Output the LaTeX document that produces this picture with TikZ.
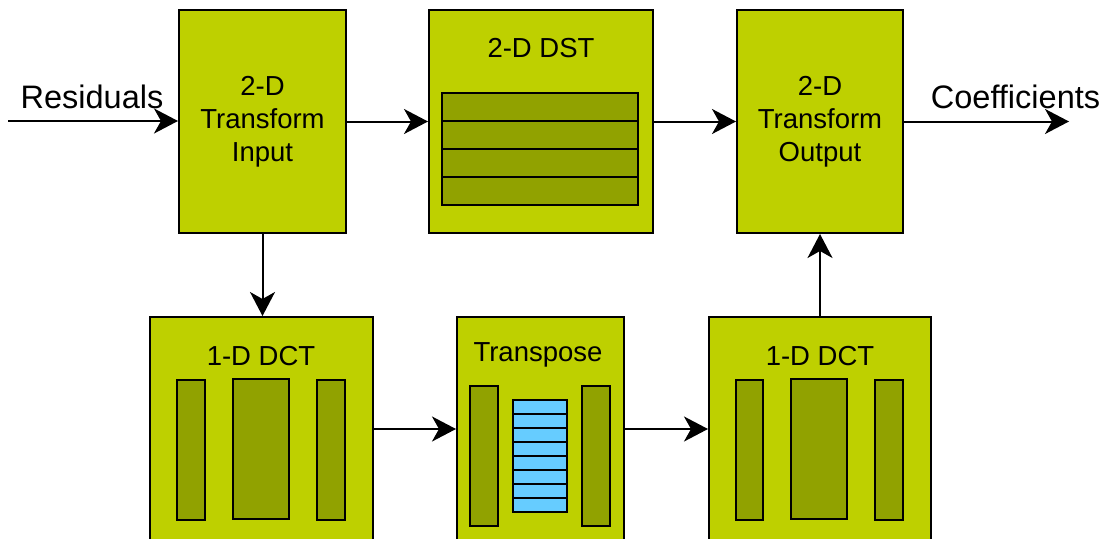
\documentclass[tikz,border=0pt]{standalone}
\usepackage{fontspec}
\setmainfont{Liberation Sans}
\usetikzlibrary{arrows.meta}
\definecolor{boxgreen}{RGB}{190,208,0}
\definecolor{bargreen}{RGB}{145,162,0}
\definecolor{cellblue}{RGB}{102,204,255}
\begin{document}
\begin{tikzpicture}[x=1pt,y=-1pt,
  box/.style={draw=black, line width=2pt, fill=boxgreen, anchor=north west, inner sep=0pt},
  bar/.style={draw=black, line width=2pt, fill=bargreen},
  cell/.style={draw=black, line width=2pt, fill=cellblue},
  boxtext/.style={font=\fontsize{27.5}{33}\selectfont, align=center, inner sep=0pt},
  lbl/.style={font=\fontsize{32.5}{39}\selectfont, inner sep=0pt, anchor=base},
  conn/.style={line width=2pt, -{Stealth[length=24pt,width=25pt,inset=7pt]}}]
\useasboundingbox (0,0) rectangle (1115,538);
\clip (0,0) rectangle (1115,538);
% top row
\node[box, minimum width=167pt, minimum height=223pt] (A) at (178,9) {};
\node[box, minimum width=224pt, minimum height=223pt] (B) at (428,9) {};
\node[box, minimum width=166pt, minimum height=223pt] (C) at (736,9) {};
% bottom row
\node[box, minimum width=223pt, minimum height=224pt] (D) at (149,316) {};
\node[box, minimum width=167pt, minimum height=224pt] (E) at (456,316) {};
\node[box, minimum width=222pt, minimum height=224pt] (F) at (708,316) {};
% texts
\node[boxtext] (tA) at (A.center) {2-D\\Transform\\Input};
\node[boxtext] (tC) at (C.center) {2-D\\Transform\\Output};
\node[boxtext, anchor=base] (tB) at (541,57) {2-D DST};
\node[boxtext, anchor=base] (tD) at (261,365) {1-D DCT};
\node[boxtext, anchor=base] (tE) at (538,361) {Transpose};
\node[boxtext, anchor=base] (tF) at (820,365) {1-D DCT};
% DST strips
\foreach \i in {0,1,2,3}{
  \draw[bar] (442,93+28*\i) rectangle (638,121+28*\i);
}
% left DCT bars
\draw[bar] (177,380) rectangle (205,520);
\draw[bar] (233,379) rectangle (289,519);
\draw[bar] (317,380) rectangle (345,520);
% transpose
\draw[bar] (470,386) rectangle (498,526);
\draw[bar] (582,386) rectangle (610,526);
\foreach \i in {0,...,7}{
  \draw[cell] (513,400+14*\i) rectangle (567,414+14*\i);
}
% right DCT bars
\draw[bar] (736,380) rectangle (763,520);
\draw[bar] (791,379) rectangle (847,519);
\draw[bar] (875,380) rectangle (903,520);
% connectors
\coordinate (in) at (8,121);
\coordinate (out) at (1069,121);
\node[lbl] (res) at (92,108) {Residuals};
\node[lbl] (coef) at (1015.5,108) {Coefficients};
\draw[conn] (in) -- (in -| A.west);
\draw[conn] (A.east) -- (B.west);
\draw[conn] (B.east) -- (C.west);
\draw[conn] (C.east) -- (out |- C.east);
\draw[conn] (A.south) -- (A.south |- D.north);
\draw[conn] (D.east) -- (E.west);
\draw[conn] (E.east) -- (F.west);
\draw[conn] (F.north) -- (F.north |- C.south);
\end{tikzpicture}
\end{document}
